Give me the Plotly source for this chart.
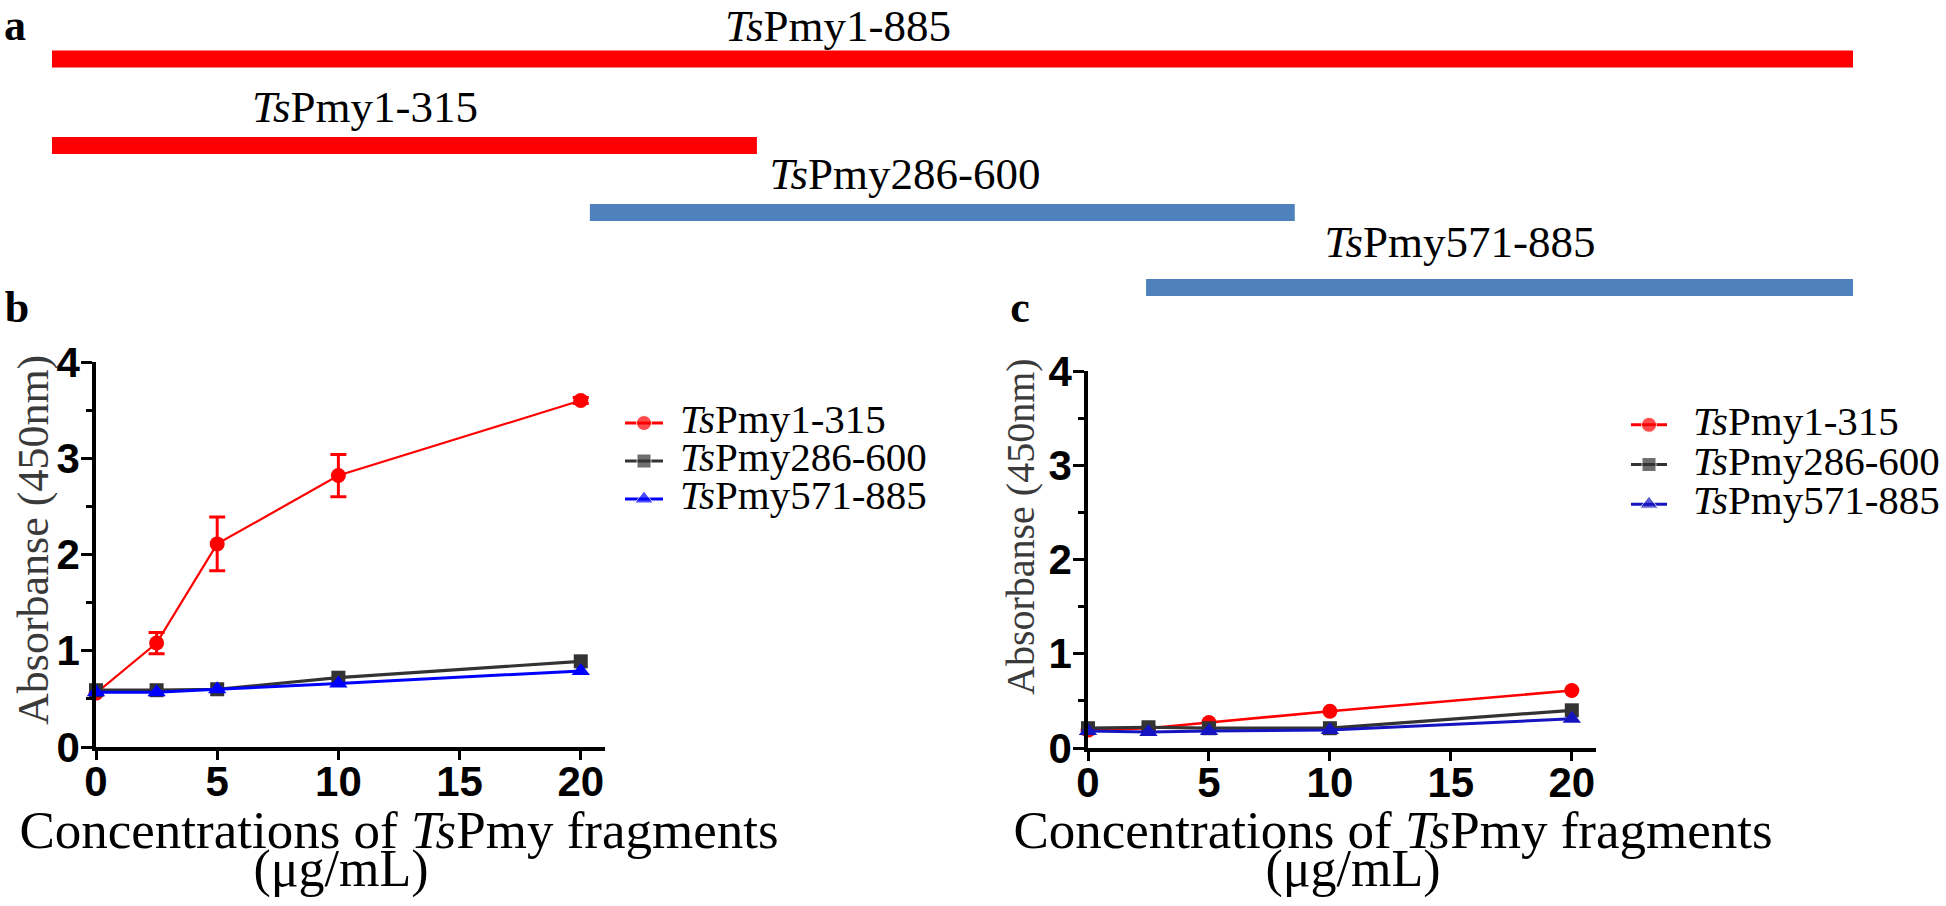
import plotly.graph_objects as go

# ---------------- data ----------------
# panel a: schematic fragments (extents as drawn on the schematic, residue-like units)
fragment_labels = ["TsPmy1-885", "TsPmy1-315", "TsPmy286-600", "TsPmy571-885"]
fragment_start = [1, 1, 265, 538]
fragment_end = [885, 347, 611, 885]
fragment_colors = ["#FF0000", "#FF0000", "#4F81BD", "#4F81BD"]

# panels b, c: absorbance vs concentration
concentration = [0, 2.5, 5, 10, 20]
series_names = ["TsPmy1-315", "TsPmy286-600", "TsPmy571-885"]

b_pmy1_315 = [0.56, 1.08, 2.11, 2.82, 3.60]
b_pmy1_315_err = [0.02, 0.11, 0.28, 0.22, 0.03]
b_pmy286_600 = [0.59, 0.59, 0.60, 0.72, 0.89]
b_pmy571_885 = [0.57, 0.57, 0.60, 0.66, 0.79]

c_pmy1_315 = [0.19, 0.21, 0.27, 0.39, 0.61]
c_pmy286_600 = [0.21, 0.22, 0.21, 0.21, 0.40]
c_pmy571_885 = [0.18, 0.17, 0.18, 0.19, 0.31]

x_ticks = [0, 5, 10, 15, 20]
y_ticks = [0, 1, 2, 3, 4]
y_minor_ticks = [0.5, 1.5, 2.5, 3.5]

# ---------------- layout helpers ----------------
W, H = 1946, 906
def fx(p):
    return p / W
def fy(p):
    return 1 - p / H

SERIF = "Times New Roman, Liberation Serif, serif"
SANS = "Arial, Liberation Sans, sans-serif"

def italic_ts(name):
    return "<i>Ts</i>" + name[2:]

# layout (pixel) placement of schematic rows and labels
bar_rows_px = [59, 145.5, 212.5, 287.5]
bar_thickness_px = 17
label_x_px = [838, 365, 905, 1460]
label_y_px = [30, 111, 178, 246]

fig = go.Figure()

# ---------- panel a: fragment bars ----------
fig.add_trace(go.Bar(
    y=bar_rows_px,
    x=[e - s for s, e in zip(fragment_start, fragment_end)],
    base=fragment_start,
    orientation="h",
    marker=dict(color=fragment_colors, line=dict(width=0)),
    width=bar_thickness_px,
    xaxis="x3", yaxis="y6", showlegend=False, hoverinfo="skip",
))

# ---------- panels b, c: line plots ----------
b_styles = [
    dict(color="#FF0000", symbol="circle", size=15, lw=2.2),
    dict(color="#333333", symbol="square", size=14, lw=3.2),
    dict(color="#0000FF", symbol="triangle-up", size=16, lw=3),
]
c_styles = [
    dict(color="#FF0000", symbol="circle", size=15, lw=2.6),
    dict(color="#333333", symbol="square", size=14, lw=3.2),
    dict(color="#1414C0", symbol="triangle-up", size=16, lw=3),
]

b_series = [b_pmy1_315, b_pmy286_600, b_pmy571_885]
c_series = [c_pmy1_315, c_pmy286_600, c_pmy571_885]

for i, (vals, st) in enumerate(zip(b_series, b_styles)):
    err = dict(type="data", array=b_pmy1_315_err, color=st["color"], thickness=3, width=8) if i == 0 else None
    fig.add_trace(go.Scatter(
        x=concentration, y=vals, mode="lines+markers",
        line=dict(color=st["color"], width=st["lw"]),
        marker=dict(symbol=st["symbol"], size=st["size"], color=st["color"]),
        error_y=err, cliponaxis=False, name=series_names[i],
        xaxis="x", yaxis="y", showlegend=False,
    ))

for i, (vals, st) in enumerate(zip(c_series, c_styles)):
    fig.add_trace(go.Scatter(
        x=concentration, y=vals, mode="lines+markers",
        line=dict(color=st["color"], width=st["lw"]),
        marker=dict(symbol=st["symbol"], size=st["size"], color=st["color"]),
        cliponaxis=False, name=series_names[i],
        xaxis="x2", yaxis="y2", showlegend=False,
    ))

# ---------- manual legends (samples) ----------
for st_list, xa, ya in [(b_styles, "x4", "y4"), (c_styles, "x5", "y5")]:
    for name, st in zip(series_names, st_list):
        fig.add_trace(go.Scatter(
            x=[0, 0.5, 1], y=[name, name, name], mode="lines+markers",
            line=dict(color=st["color"], width=3),
            marker=dict(symbol=st["symbol"], size=[0, st["size"], 0], color=st["color"]),
            cliponaxis=False, xaxis=xa, yaxis=ya, showlegend=False, hoverinfo="skip",
        ))

# ---------- texts on a full-figure pixel overlay axis ----------
def add_texts(texts, xs, ys, size, position="middle center", color="black"):
    fig.add_trace(go.Scatter(
        x=xs, y=ys, text=texts, mode="text", textposition=position,
        textfont=dict(family=SERIF, size=size, color=color),
        cliponaxis=False, xaxis="x6", yaxis="y6", showlegend=False, hoverinfo="skip",
    ))

# fragment labels
add_texts([italic_ts(n) for n in fragment_labels], label_x_px, label_y_px, 45)
# panel letters
add_texts(["<b>a</b>", "<b>b</b>", "<b>c</b>"], [15, 17, 1020], [29, 311, 311], 44)
# legend texts
add_texts([italic_ts(n) for n in series_names], [680] * 3, [423, 461, 499], 41, position="middle right")
add_texts([italic_ts(n) for n in series_names], [1693] * 3, [425, 465, 504], 41, position="middle right")
# x titles
add_texts(["Concentrations of <i>Ts</i>Pmy fragments", "Concentrations of <i>Ts</i>Pmy fragments"],
          [399, 1393], [835, 835], 53)
add_texts(["(μg/mL)", "(μg/mL)"], [341, 1353], [873, 873], 52)

axis_common = dict(
    showline=True, linecolor="black", linewidth=3.5, mirror=False,
    ticks="outside", tickcolor="black", tickwidth=3,
    showgrid=False, zeroline=False, automargin=False,
    tickfont=dict(family=SANS, size=42, color="black", weight="bold"),
)
hidden = dict(visible=False, showgrid=False, zeroline=False, fixedrange=True, automargin=False)

fig.update_layout(
    width=W, height=H,
    margin=dict(l=0, r=0, t=0, b=0, pad=0, autoexpand=False),
    paper_bgcolor="white", plot_bgcolor="rgba(0,0,0,0)",
    showlegend=False,
    xaxis=dict(domain=[fx(96), fx(605)], range=[0, 21], anchor="y",
               tickvals=x_ticks, ticklen=9, ticklabelstandoff=-14, **axis_common),
    yaxis=dict(domain=[fy(747), fy(362)], range=[0, 4], anchor="x",
               tickvals=y_ticks, ticklen=11, ticklabelstandoff=-7,
               minor=dict(tickvals=y_minor_ticks, ticks="outside", ticklen=6, tickwidth=3, tickcolor="black"),
               **axis_common),
    xaxis2=dict(domain=[fx(1088), fx(1596)], range=[0, 21], anchor="y2",
                tickvals=x_ticks, ticklen=9, ticklabelstandoff=-14, **axis_common),
    yaxis2=dict(domain=[fy(748), fy(371)], range=[0, 4], anchor="x2",
                tickvals=y_ticks, ticklen=11, ticklabelstandoff=-7,
                minor=dict(tickvals=y_minor_ticks, ticks="outside", ticklen=6, tickwidth=3, tickcolor="black"),
                **axis_common),
    xaxis3=dict(domain=[fx(52), fx(1853)], range=[1, 885], anchor="y6", **hidden),
    xaxis4=dict(domain=[fx(625), fx(663)], range=[0, 1], anchor="y4", **hidden),
    yaxis4=dict(domain=[fy(518), fy(404)], range=[2.5, -0.5], anchor="x4",
                type="category", categoryarray=series_names, **hidden),
    xaxis5=dict(domain=[fx(1631), fx(1667)], range=[0, 1], anchor="y5", **hidden),
    yaxis5=dict(domain=[fy(524), fy(405)], range=[2.5, -0.5], anchor="x5",
                type="category", categoryarray=series_names, **hidden),
    xaxis6=dict(domain=[0, 1], range=[0, W], anchor="y6", **hidden),
    yaxis6=dict(domain=[0, 1], range=[H, 0], anchor="x6", **hidden),
)

annotations = []
def add_rot(text, x, y, size, color="#3a3a3a"):
    annotations.append(dict(
        text=text, x=fx(x), y=fy(y), xref="paper", yref="paper",
        xanchor="center", yanchor="middle", showarrow=False, textangle=-90,
        font=dict(family=SERIF, size=size, color=color),
    ))

add_rot("Absorbanse (450nm)", 33, 540, 44)
add_rot("Absorbanse (450nm)", 1020, 527, 40)

fig.update_layout(annotations=annotations)

fig.write_html(
    "out.html",
    config={"displayModeBar": False},
    post_script="document.body.style.margin='0';document.body.style.overflow='hidden';",
)
